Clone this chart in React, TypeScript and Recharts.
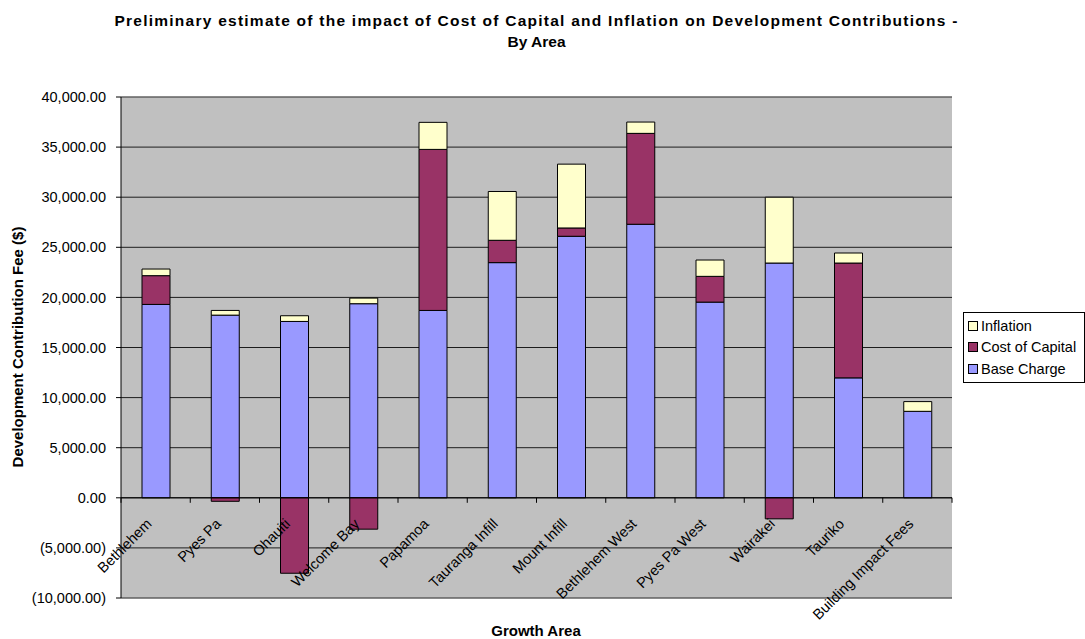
import React from 'react';
import { BarChart, Bar, XAxis, YAxis, CartesianGrid, ReferenceLine } from 'recharts';

const categories = ['Bethlehem', 'Pyes Pa', 'Ohauiti', 'Welcome Bay', 'Papamoa', 'Tauranga Infill', 'Mount Infill', 'Bethlehem West', 'Pyes Pa West', 'Wairakei', 'Tauriko', 'Building Impact Fees'];
const baseCharge = [19300, 18230, 17600, 19370, 18700, 23470, 26100, 27300, 19530, 23430, 11970, 8630];
const costOfCapital = [2870, -350, -7530, -3130, 16070, 2230, 830, 9070, 2570, -2100, 11460, 0];
const inflation = [660, 470, 570, 560, 2700, 4870, 6370, 1130, 1630, 6570, 1000, 970];
const yTicks = [-10000, -5000, 0, 5000, 10000, 15000, 20000, 25000, 30000, 35000, 40000];

const data = categories.map((name, i) => ({
  name,
  base: baseCharge[i],
  coc: costOfCapital[i],
  infl: inflation[i],
}));

const FONT = "Arial, 'Liberation Sans', sans-serif";
const W = 1085;
const H = 639;
const M_TOP = 97;
const M_RIGHT = 133;
const Y_AXIS_W = 121;
const X_AXIS_H = 30;
const M_BOTTOM = 11;
const Y_MIN = -10000;
const Y_MAX = 40000;
const PLOT_H = H - M_TOP - M_BOTTOM - X_AXIS_H;
const PLOT_W = W - Y_AXIS_W - M_RIGHT;
const ZERO_Y = M_TOP + PLOT_H * (Y_MAX / (Y_MAX - Y_MIN));
const BAND = PLOT_W / categories.length;

const fmt = (v: number) => {
  const s = Math.abs(v).toLocaleString('en-US', { minimumFractionDigits: 2, maximumFractionDigits: 2 });
  return v < 0 ? `(${s})` : s;
};

const colors = { infl: '#FFFFCC', coc: '#993366', base: '#9999FF' };

const XTick = (props: any) => {
  const { x, payload } = props;
  const idx = categories.indexOf(payload.value);
  const ax = x - 3;
  const ay = ZERO_Y + 27;
  return (
    <g>
      <line x1={x - BAND / 2} x2={x - BAND / 2} y1={ZERO_Y} y2={ZERO_Y + 5} stroke="#000" />
      {idx === categories.length - 1 && (
        <line x1={x + BAND / 2} x2={x + BAND / 2} y1={ZERO_Y} y2={ZERO_Y + 5} stroke="#000" />
      )}
      <text x={ax} y={ay} textAnchor="end" transform={`rotate(-45 ${ax} ${ay})`} fontSize={14.5} fontFamily={FONT} fill="#000">
        {payload.value}
      </text>
    </g>
  );
};

const legendItems = [
  { label: 'Inflation', color: colors.infl },
  { label: 'Cost of Capital', color: colors.coc },
  { label: 'Base Charge', color: colors.base },
];

export default function App() {
  return (
    <div style={{ position: 'absolute', left: 0, top: 0, width: W, height: H, background: '#fff', fontFamily: FONT }}>
      <BarChart
        width={W}
        height={H}
        data={data}
        stackOffset="sign"
        barSize={28}
        margin={{ top: M_TOP, right: M_RIGHT, bottom: M_BOTTOM, left: 0 }}
        style={{ position: 'absolute', left: 0, top: 0 }}
      >
        <CartesianGrid fill="#C0C0C0" stroke="#000" vertical={false} strokeOpacity={0.85} />
        <XAxis
          dataKey="name"
          height={X_AXIS_H}
          interval={0}
          tickLine={false}
          axisLine={{ stroke: '#808080' }}
          tick={<XTick />}
        />
        <YAxis
          width={Y_AXIS_W}
          domain={[Y_MIN, Y_MAX]}
          ticks={yTicks}
          tickFormatter={fmt}
          axisLine={{ stroke: '#000' }}
          tickLine={{ stroke: '#000' }}
          tickSize={5}
          tickMargin={10}
          tick={{ fill: '#000', fontSize: 14.5, fontFamily: FONT }}
          allowDataOverflow
        />
        <YAxis yAxisId="r" orientation="right" width={0} tick={false} tickLine={false} axisLine={{ stroke: '#808080' }} domain={[Y_MIN, Y_MAX]} />
        <ReferenceLine y={Y_MAX} stroke="#808080" />
        <Bar dataKey="base" name="Base Charge" stackId="a" fill={colors.base} stroke="#000" strokeWidth={1} isAnimationActive={false} />
        <Bar dataKey="coc" name="Cost of Capital" stackId="a" fill={colors.coc} stroke="#000" strokeWidth={1} isAnimationActive={false} />
        <Bar dataKey="infl" name="Inflation" stackId="a" fill={colors.infl} stroke="#000" strokeWidth={1} isAnimationActive={false} />
        <ReferenceLine y={0} stroke="#000" />
      </BarChart>
      <div style={{ position: 'absolute', left: 0, width: W - 12, top: 10, textAlign: 'center', fontWeight: 'bold', fontSize: 15.5, lineHeight: '21px', color: '#000' }}>
        <div style={{ letterSpacing: 1.25 }}>Preliminary estimate of the impact of Cost of Capital and Inflation on Development Contributions -</div>
        <div>By Area</div>
      </div>
      <div style={{ position: 'absolute', left: 436, width: 200, top: 622, textAlign: 'center', fontWeight: 'bold', fontSize: 15, lineHeight: '17px', color: '#000' }}>
        Growth Area
      </div>
      <div style={{ position: 'absolute', left: 18 - 150, width: 300, top: 347 - 9, height: 18, textAlign: 'center', fontWeight: 'bold', fontSize: 15, lineHeight: '18px', color: '#000', transform: 'rotate(-90deg)' }}>
        Development Contribution Fee ($)
      </div>
      <div style={{ position: 'absolute', left: 963, top: 312, border: '1px solid #000', background: '#fff', padding: '2px 0 2px 4px', width: 116, fontSize: 14.5 }}>
        {legendItems.map((it) => (
          <div key={it.label} style={{ display: 'flex', alignItems: 'center', height: 21.5 }}>
            <span style={{ width: 8, height: 8, background: it.color, border: '1px solid #000', display: 'inline-block', marginRight: 3 }} />
            <span style={{ color: '#000', whiteSpace: 'nowrap' }}>{it.label}</span>
          </div>
        ))}
      </div>
    </div>
  );
}
